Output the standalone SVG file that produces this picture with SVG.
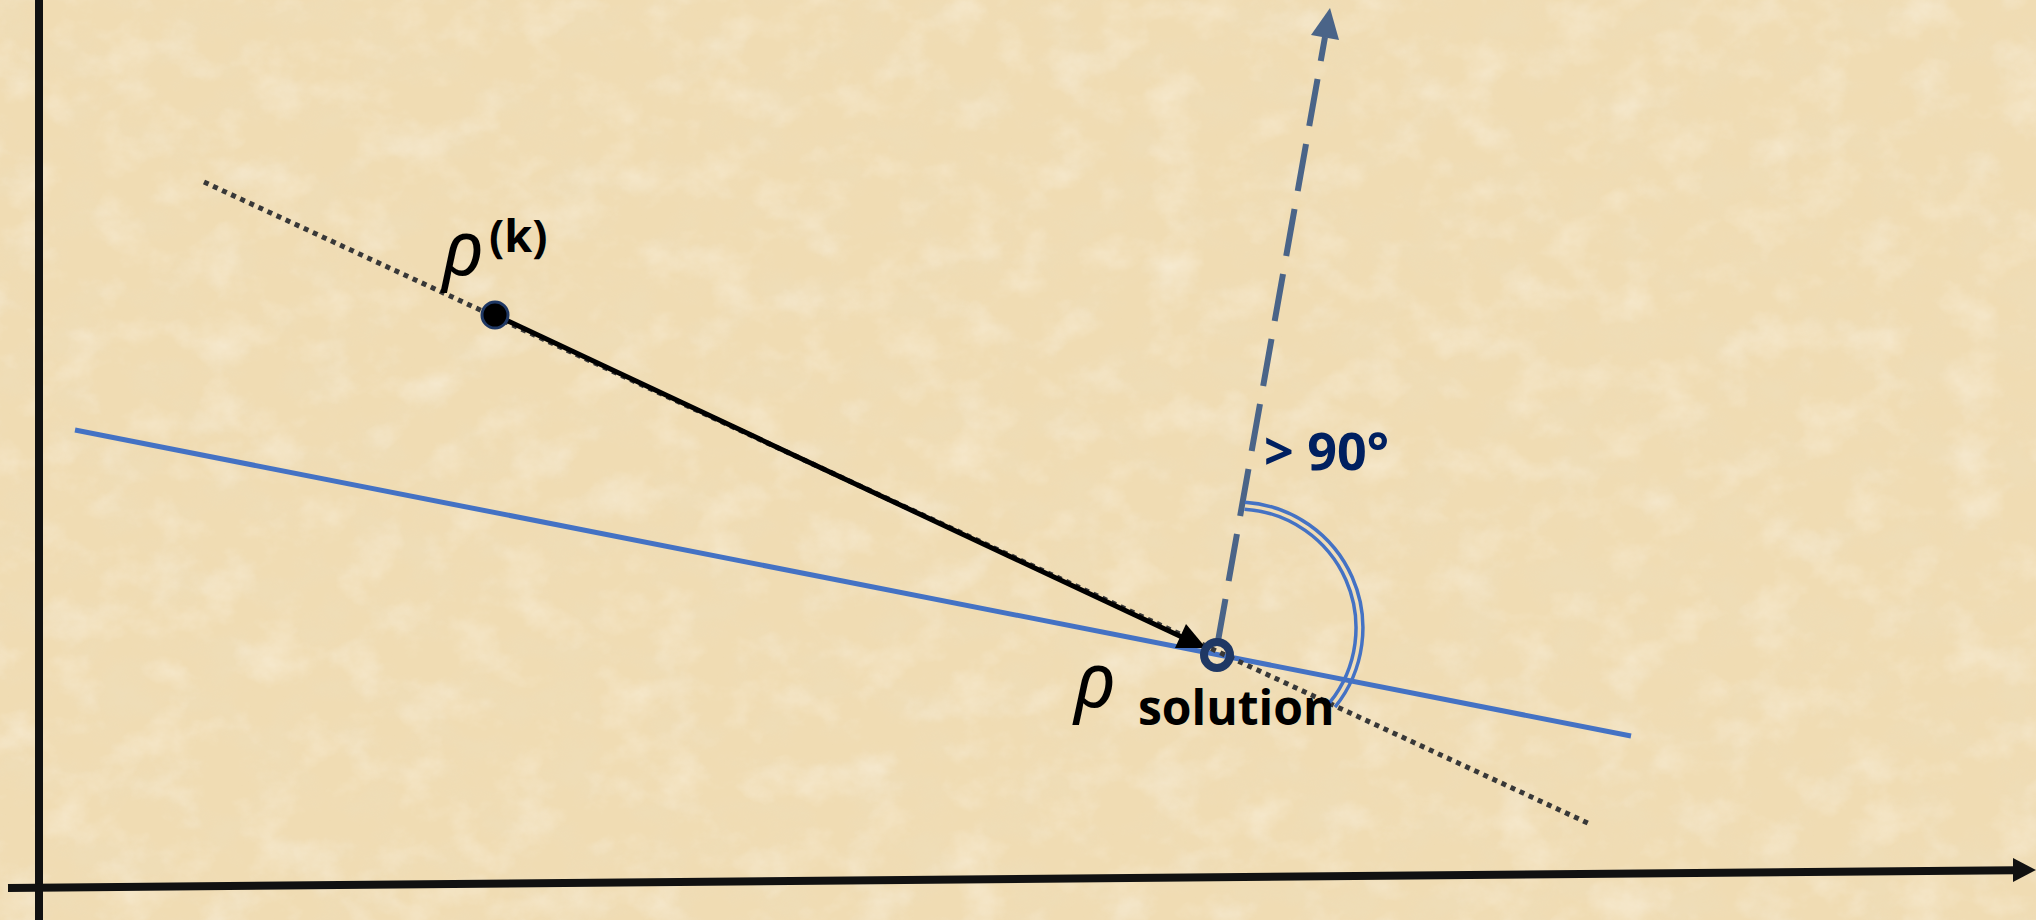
<svg xmlns="http://www.w3.org/2000/svg" width="2036" height="920" viewBox="0 0 2036 920">
<defs>
<filter id="paper" x="0" y="0" width="2036" height="920" filterUnits="userSpaceOnUse">
<feTurbulence type="fractalNoise" baseFrequency="0.02 0.025" numOctaves="5" seed="11" result="n"/>
<feColorMatrix in="n" type="matrix" values="0 0 0 0 0.85  0 0 0 0 0.73  0 0 0 0 0.50  1.1 0 0 0 -0.45" result="dark"/>
<feColorMatrix in="n" type="matrix" values="0 0 0 0 0.97  0 0 0 0 0.91  0 0 0 0 0.79  0 -1.0 0 0 0.52" result="light"/>
<feMerge><feMergeNode in="dark"/><feMergeNode in="light"/></feMerge>
</filter>
<style>
.axis{stroke:#111;stroke-width:8;fill:none}
.dotted{stroke:#383838;stroke-width:5;stroke-dasharray:5 5;fill:none}
.blue{stroke:#4472c4;stroke-width:5;fill:none}
.step{stroke:#000;stroke-width:5;fill:none}
.normal{stroke:#4a6488;stroke-width:6;fill:none;stroke-dasharray:47.7 18.3;stroke-dashoffset:23.3}
.arc{stroke:#4472c4;stroke-width:3.5;fill:none}
.rho{font-family:"Noto Sans","DejaVu Sans",sans-serif;font-style:italic;font-size:76px;fill:#000}
.lbl{font-family:"Open Sans","Liberation Sans",sans-serif;font-weight:bold;fill:#000}
</style>
</defs>
<g id="background">
<rect width="2036" height="920" fill="#f0dcb3"/>
<rect width="2036" height="920" filter="url(#paper)"/>
</g>
<g id="connectors">
<line class="blue" x1="75" y1="430" x2="1631" y2="736"/>
<line class="dotted" x1="204" y1="182" x2="1592" y2="825"/>
<line class="step" x1="495" y1="315" x2="1184" y2="638"/>
<polygon points="1206,648 1175,648 1186,624" fill="#000"/>
<line class="normal" x1="1325" y1="37" x2="1218" y2="641"/>
<polygon points="1330,8 1339,40 1311,35" fill="#4a6488"/>
<path class="arc" d="M1244.9,502.3 A126,126 0 0 1 1335,707.1"/>
<path class="arc" d="M1244.5,509.2 A119,119 0 0 1 1329.6,702.7"/>
<line class="axis" x1="39" y1="0" x2="39" y2="920"/>
<line class="axis" x1="8" y1="888" x2="2016" y2="870.2"/>
<polygon points="2036,870 2013,858 2013,882" fill="#111"/>
</g>
<g id="node-rho-k">
<circle cx="495" cy="315" r="13" fill="#000" stroke="#1f3864" stroke-width="3"/>
<text class="rho" x="442" y="275">ρ</text>
<text class="lbl" x="489" y="252" font-size="45">(k)</text>
</g>
<g id="node-rho-solution">
<circle cx="1217" cy="655" r="13" fill="none" stroke="#1f3864" stroke-width="8"/>
<text class="rho" x="1074" y="707">ρ</text>
<text class="lbl" x="1138" y="725" font-size="48">solution</text>
</g>
<g id="angle-label">
<text class="lbl" x="1264" y="470" font-size="52" style="fill:#002060">&gt; 90°</text>
</g>
</svg>
